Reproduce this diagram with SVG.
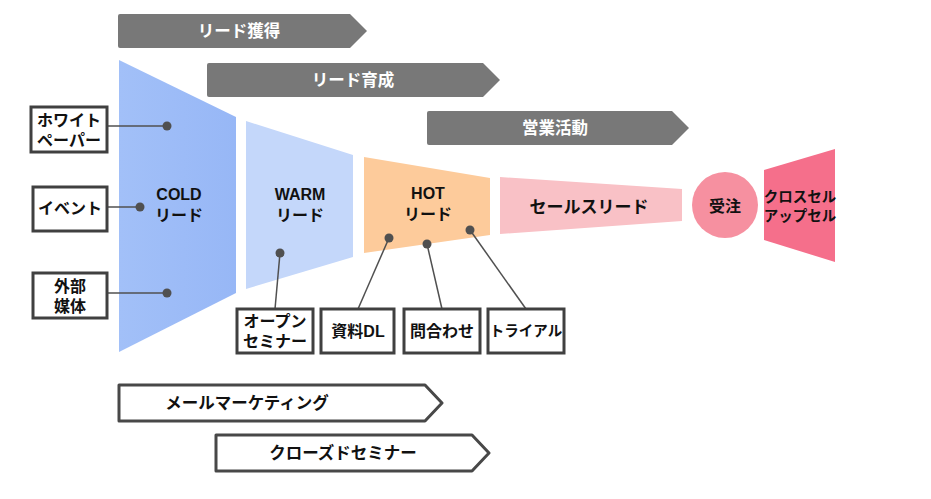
<svg xmlns="http://www.w3.org/2000/svg" width="931" height="499" viewBox="0 0 931 499">
<defs>
<style>
.t{font-family:"Liberation Sans","Noto Sans CJK JP",sans-serif;font-weight:bold;text-anchor:middle;dominant-baseline:central}
.bn{fill:#787878}
.bt{fill:#ffffff;font-size:16.5px}
.nt{fill:#111111;font-size:16px}
.box{fill:#ffffff;stroke:#404040;stroke-width:3}
.bx{fill:#111111;font-size:16px}
.ob{fill:#ffffff;stroke:#484848;stroke-width:3;stroke-linejoin:round}
.ot{fill:#111111;font-size:16.5px}
.ln{stroke:#505050;stroke-width:1.5;fill:none}
.dot{fill:#505050}
</style>
<linearGradient id="gc" x1="0" y1="0" x2="1" y2="0"><stop offset="0" stop-color="#a2c0f8"/><stop offset="1" stop-color="#97b7f6"/></linearGradient>
</defs>
<g id="banner-acquire"><path class="bn" d="M120 14H350L367 31L350 48H120Q118 48 118 46V16Q118 14 120 14Z"/><text class="t bt" x="239" y="31">リード獲得</text></g>
<g id="banner-nurture"><path class="bn" d="M209 63H483L500 80L483 97H209Q207 97 207 95V65Q207 63 209 63Z"/><text class="t bt" x="353" y="80">リード育成</text></g>
<g id="banner-sales"><path class="bn" d="M429 111H672L689 128L672 145H429Q427 145 427 143V113Q427 111 429 111Z"/><text class="t bt" x="555" y="128">営業活動</text></g>
<g id="cold"><polygon points="119,60 236,117 236,293 119,352" fill="url(#gc)"/><text class="t nt" x="179" y="194">COLD</text><text class="t nt" x="179" y="215">リード</text></g>
<g id="warm"><polygon points="246,121 353,155 353,257 246,289" fill="#c4d7fa"/><text class="t nt" x="300" y="194">WARM</text><text class="t nt" x="300" y="215">リード</text></g>
<g id="hot"><polygon points="364,157 490,178 490,235 364,253" fill="#fdcb9b"/><text class="t nt" x="428" y="193">HOT</text><text class="t nt" x="428" y="214">リード</text></g>
<g id="saleslead"><polygon points="500,177 682,189 682,221 500,234" fill="#f9c1c6"/><text class="t" style="fill:#111;font-size:17px" x="589" y="207">セールスリード</text></g>
<g id="order"><circle cx="725" cy="205" r="33" fill="#f690a0"/><text class="t nt" x="725" y="206">受注</text></g>
<g id="crosssell"><polygon points="764,170 835,149 835,262 764,240" fill="#f56f8b"/><text class="t" style="fill:#111;font-size:14.5px" x="800" y="197">クロスセル</text><text class="t" style="fill:#111;font-size:14.5px" x="800" y="216">アップセル</text></g>
<g id="connectors">
<line class="ln" x1="107" y1="126" x2="167" y2="126"/>
<line class="ln" x1="107" y1="207" x2="140" y2="207"/>
<line class="ln" x1="107" y1="293" x2="167" y2="293"/>
<line class="ln" x1="280" y1="253" x2="275" y2="309"/>
<line class="ln" x1="389" y1="238" x2="358" y2="309"/>
<line class="ln" x1="427" y1="244" x2="442" y2="309"/>
<line class="ln" x1="470" y1="230" x2="526" y2="309"/>
<circle class="dot" cx="167" cy="126" r="4.5"/>
<circle class="dot" cx="140" cy="207" r="4.5"/>
<circle class="dot" cx="167" cy="293" r="4.5"/>
<circle class="dot" cx="280" cy="253" r="4.5"/>
<circle class="dot" cx="389" cy="238" r="4.5"/>
<circle class="dot" cx="427" cy="244" r="4.5"/>
<circle class="dot" cx="470" cy="230" r="4.5"/>
</g>
<g id="whitepaper"><rect class="box" x="31" y="107" width="76" height="45"/><text class="t bx" x="69" y="120">ホワイト</text><text class="t bx" x="69" y="140">ペーパー</text></g>
<g id="event"><rect class="box" x="33" y="187" width="74" height="44"/><text class="t bx" x="70" y="208">イベント</text></g>
<g id="media"><rect class="box" x="33" y="273" width="74" height="45"/><text class="t bx" x="70" y="286">外部</text><text class="t bx" x="70" y="306">媒体</text></g>
<g id="openseminar"><rect class="box" x="237" y="309" width="76" height="44"/><text class="t bx" x="275" y="321">オープン</text><text class="t bx" x="275" y="341">セミナー</text></g>
<g id="docdl"><rect class="box" x="321" y="309" width="73" height="44"/><text class="t bx" x="358" y="331">資料DL</text></g>
<g id="inquiry"><rect class="box" x="404" y="309" width="76" height="44"/><text class="t bx" x="442" y="331">問合わせ</text></g>
<g id="trial"><rect class="box" x="488" y="309" width="76" height="44"/><text class="t bx" style="font-size:14.5px" x="526" y="331">トライアル</text></g>
<g id="mail"><path class="ob" d="M119 385H425L442 403L425 421H119Z"/><text class="t ot" x="247" y="403">メールマーケティング</text></g>
<g id="closed"><path class="ob" d="M216 435H472L489 453L472 471H216Z"/><text class="t ot" x="343" y="453">クローズドセミナー</text></g>
</svg>
